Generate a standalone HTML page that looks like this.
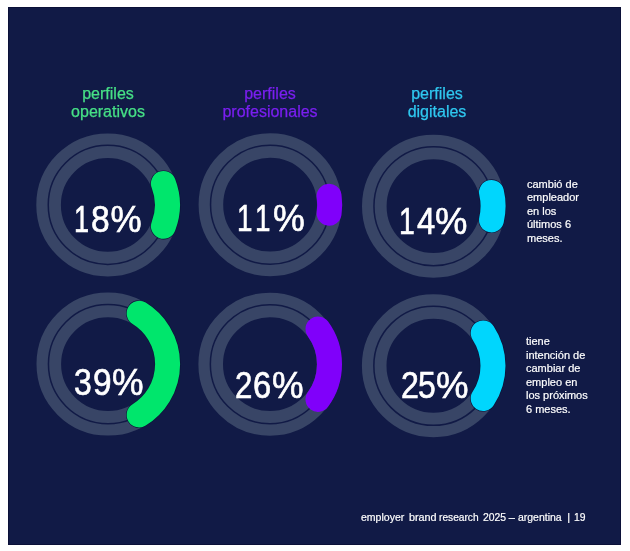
<!DOCTYPE html>
<html><head><meta charset="utf-8">
<style>
html,body{margin:0;padding:0;background:#fff;width:630px;height:551px;overflow:hidden;}
body{position:relative;font-family:"Liberation Sans",sans-serif;}
.t{will-change:transform;}
#bg{position:absolute;left:8px;top:7px;width:613px;height:538px;background:#111a46;box-shadow:inset 0 0 0 1px #0b1038;}
svg{position:absolute;left:0;top:0;}
.h{position:absolute;-webkit-text-stroke:0.25px currentColor;font-size:16px;line-height:18.4px;text-align:center;width:140px;}
.pct{position:absolute;left:0;width:630px;height:35px;color:#fff;-webkit-text-stroke:0.6px #fff;font-size:35px;line-height:35px;transform:scaleY(1.07);transform-origin:50% 18px;}
.pct span{position:absolute;top:0;transform-origin:0 0;}
.side{position:absolute;color:#fff;-webkit-text-stroke:0.2px #fff;font-size:11px;line-height:13.4px;left:527px;}
.foot{position:absolute;color:#fff;-webkit-text-stroke:0.2px #fff;font-size:11px;left:0;top:511px;line-height:13px;white-space:nowrap;}
.foot span{position:absolute;top:0;transform-origin:0 0;}
</style></head>
<body>
<div id="bg"></div>
<svg width="630" height="551" viewBox="0 0 630 551"><g fill="none">
<g stroke="#384566" stroke-width="24.6"><circle cx="107.8" cy="204.9" r="59.2"/><circle cx="270.1" cy="204.7" r="59.2"/><circle cx="433.5" cy="206.2" r="59.2"/><circle cx="108.0" cy="364.1" r="59.2"/><circle cx="269.9" cy="364.2" r="59.2"/><circle cx="433.4" cy="365.75" r="59.2"/></g>
<g stroke="#111a46" stroke-width="1.5"><circle cx="107.8" cy="204.9" r="59.55"/><circle cx="270.1" cy="204.7" r="59.55"/><circle cx="433.5" cy="206.2" r="59.55"/><circle cx="108.0" cy="364.1" r="59.55"/><circle cx="269.9" cy="364.2" r="59.55"/><circle cx="433.4" cy="365.75" r="59.55"/></g>
<g stroke-linecap="round">
<path stroke="#0c1438" stroke-width="26.2" d="M163.44 183.54A59.6 59.6 0 0 1 163.44 226.26"/>
<path stroke="#00e66c" stroke-width="25.0" d="M163.44 183.54A59.6 59.6 0 0 1 163.44 226.26"/>
<path stroke="#8000fa" stroke-width="25.0" d="M329.10 196.25A59.6 59.6 0 0 1 329.10 213.15"/>
<path stroke="#0c1438" stroke-width="26.2" d="M491.50 192.49A59.6 59.6 0 0 1 491.50 219.91"/>
<path stroke="#00d6fd" stroke-width="25.0" d="M491.50 192.49A59.6 59.6 0 0 1 491.50 219.91"/>
<path stroke="#0c1438" stroke-width="26.2" d="M139.14 313.28A59.6 59.6 0 0 1 139.14 414.92"/>
<path stroke="#00e66c" stroke-width="25.0" d="M139.14 313.28A59.6 59.6 0 0 1 139.14 414.92"/>
<path stroke="#8000fa" stroke-width="25.0" d="M317.99 329.00A59.6 59.6 0 0 1 317.99 399.40"/>
<path stroke="#0c1438" stroke-width="26.2" d="M483.21 333.03A59.6 59.6 0 0 1 483.21 398.47"/>
<path stroke="#00d6fd" stroke-width="25.0" d="M483.21 333.03A59.6 59.6 0 0 1 483.21 398.47"/>
</g></g></svg>

<div class="h t" style="left:38px;top:84.5px;color:#46e086;">perfiles<br>operativos</div>
<div class="h t" style="left:200px;top:84.5px;color:#7a1ff0;">perfiles<br>profesionales</div>
<div class="h t" style="left:367px;top:84.5px;color:#2fc8f0;">perfiles<br>digitales</div>

<div class="pct t" style="top:200.65px;"><span style="left:73.65px;transform:scaleX(0.775)">1</span><span style="left:90.64px;transform:scaleX(0.959)">8</span><span style="left:110.60px;transform:scaleX(1.000)">%</span></div>
<div class="pct t" style="top:200.4px;"><span style="left:237.01px;transform:scaleX(0.794)">1</span><span style="left:254.51px;transform:scaleX(0.794)">1</span><span style="left:272.58px;transform:scaleX(1.021)">%</span></div>
<div class="pct t" style="top:203.1px;"><span style="left:399.18px;transform:scaleX(0.812)">1</span><span style="left:416.60px;transform:scaleX(0.937)">4</span><span style="left:435.26px;transform:scaleX(1.041)">%</span></div>
<div class="pct t" style="top:363.7px;"><span style="left:74.29px;transform:scaleX(0.912)">3</span><span style="left:92.95px;transform:scaleX(0.953)">9</span><span style="left:111.99px;transform:scaleX(1.014)">%</span></div>
<div class="pct t" style="top:367px;"><span style="left:234.91px;transform:scaleX(0.894)">2</span><span style="left:252.96px;transform:scaleX(0.935)">6</span><span style="left:271.99px;transform:scaleX(1.014)">%</span></div>
<div class="pct t" style="top:367.3px;"><span style="left:401.08px;transform:scaleX(0.918)">2</span><span style="left:417.89px;transform:scaleX(0.912)">5</span><span style="left:436.26px;transform:scaleX(1.045)">%</span></div>

<div class="side t" style="top:177.5px;">cambió de<br>empleador<br>en los<br>últimos 6<br>meses.</div>
<div class="side t" style="top:335px;left:526px;line-height:13.6px;">tiene<br>intención de<br>cambiar de<br>empleo en<br>los próximos<br>6 meses.</div>

<div class="foot t"><span style="left:361.0px;transform:scaleX(0.956)">employer</span><span style="left:408.7px;transform:scaleX(0.981)">brand</span><span style="left:438.9px;transform:scaleX(0.926)">research</span><span style="left:482.6px;transform:scaleX(0.946)">2025</span><span style="left:508.8px;transform:scaleX(1.000)">–</span><span style="left:518.4px;transform:scaleX(0.950)">argentina</span><span style="left:567.3px;transform:scaleX(1.000)">|</span><span style="left:574.3px;transform:scaleX(0.942)">19</span></div>
</body></html>
